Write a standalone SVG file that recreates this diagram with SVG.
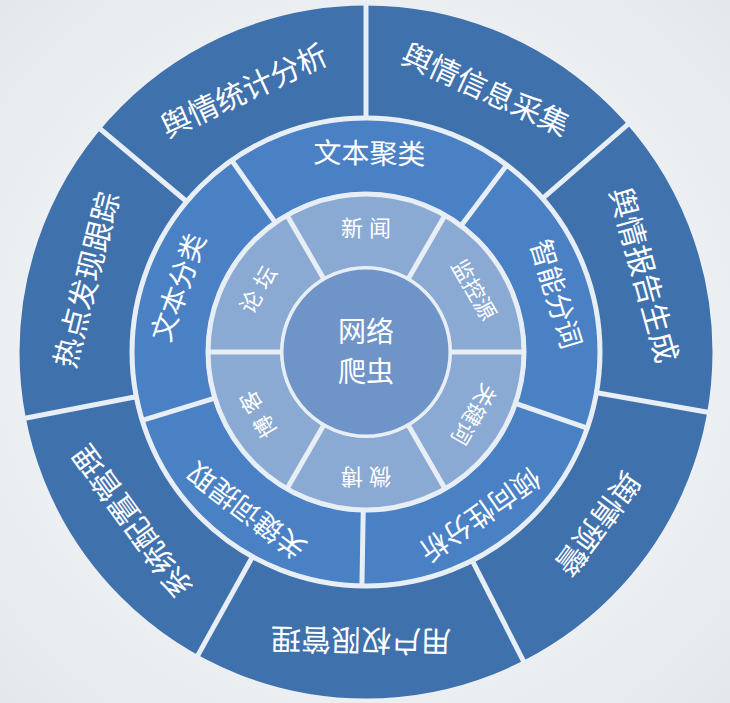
<svg xmlns="http://www.w3.org/2000/svg" width="730" height="703" viewBox="0 0 730 703">
<defs>
<radialGradient id="bg" cx="50%" cy="50%" r="70%"><stop offset="0" stop-color="#ffffff"/><stop offset="1" stop-color="#e4e8ec"/></radialGradient>
<style>
text{font-family:"Liberation Sans","Noto Sans CJK SC",sans-serif;fill:#fff;text-anchor:middle;dominant-baseline:central}
.o{font-size:30px}.m{font-size:28px}.i{font-size:22px}
.sep{stroke:#e8eef6;stroke-width:5}
</style>
</defs>
<rect width="730" height="703" fill="url(#bg)"/>
<g id="rings">
<circle cx="366" cy="352" r="347" fill="#eef2f7"/>
<circle cx="366" cy="352" r="290.5" fill="none" stroke="#3f71ad" stroke-width="112"/>
<circle cx="366" cy="352" r="196" fill="none" stroke="#4a81c5" stroke-width="72"/>
<circle cx="366" cy="352" r="122" fill="none" stroke="#8aaad3" stroke-width="72"/>
<circle cx="366" cy="352" r="84" fill="#6f95c8" stroke="#e8eef6" stroke-width="3"/>
</g>
<g id="separators" class="sep">
<g transform="translate(366 352)">
<line x1="0" y1="-233" x2="0" y2="-350" transform="rotate(0)"/>
<line x1="0" y1="-233" x2="0" y2="-350" transform="rotate(49)"/>
<line x1="0" y1="-233" x2="0" y2="-350" transform="rotate(100)"/>
<line x1="0" y1="-233" x2="0" y2="-350" transform="rotate(153)"/>
<line x1="0" y1="-233" x2="0" y2="-350" transform="rotate(209)"/>
<line x1="0" y1="-233" x2="0" y2="-350" transform="rotate(259)"/>
<line x1="0" y1="-233" x2="0" y2="-350" transform="rotate(310)"/>
<line x1="0" y1="-158" x2="0" y2="-234" transform="rotate(37)"/>
<line x1="0" y1="-158" x2="0" y2="-234" transform="rotate(109)"/>
<line x1="0" y1="-158" x2="0" y2="-234" transform="rotate(181)"/>
<line x1="0" y1="-158" x2="0" y2="-234" transform="rotate(253)"/>
<line x1="0" y1="-158" x2="0" y2="-234" transform="rotate(325)"/>
<line x1="0" y1="-85" x2="0" y2="-158" transform="rotate(30)"/>
<line x1="0" y1="-85" x2="0" y2="-158" transform="rotate(90)"/>
<line x1="0" y1="-85" x2="0" y2="-158" transform="rotate(150)"/>
<line x1="0" y1="-85" x2="0" y2="-158" transform="rotate(210)"/>
<line x1="0" y1="-85" x2="0" y2="-158" transform="rotate(270)"/>
<line x1="0" y1="-85" x2="0" y2="-158" transform="rotate(330)"/>
<circle r="234" fill="none"/>
<circle r="158" fill="none"/>
</g>
</g>
<g transform="translate(366 352)">
<g id="n-tongji"><text class="o" y="-288" transform="rotate(335)">舆情统计分析</text></g>
<g id="n-caiji"><text class="o" y="-288" transform="rotate(24.5)">舆情信息采集</text></g>
<g id="n-baogao"><text class="o" y="-288" transform="rotate(74.5)">舆情报告生成</text></g>
<g id="n-yujing"><text class="o" y="-288" transform="rotate(126.5)">舆情预警</text></g>
<g id="n-quanxian"><text class="o" y="-288" transform="rotate(181)">用户权限管理</text></g>
<g id="n-peizhi"><text class="o" y="-288" transform="rotate(234)">系统配置管理</text></g>
<g id="n-redian"><text class="o" y="-288" transform="rotate(284.5)">热点发现跟踪</text></g>
<g id="n-julei"><text class="m" y="-198" transform="rotate(1)">文本聚类</text></g>
<g id="n-fenci"><text class="m" y="-198" transform="rotate(73)">智能分词</text></g>
<g id="n-qingxiang"><text class="m" y="-198" transform="rotate(145)">倾向性分析</text></g>
<g id="n-tiqu"><text class="m" y="-198" transform="rotate(217)">关键词提取</text></g>
<g id="n-fenlei"><text class="m" y="-198" transform="rotate(289)">文本分类</text></g>
<g id="n-xinwen"><text class="i" y="-124" transform="rotate(0)">新 闻</text></g>
<g id="n-jiankong"><text class="i" y="-124" transform="rotate(60)">监控源</text></g>
<g id="n-guanjianci"><text class="i" y="-124" transform="rotate(120)">关键词</text></g>
<g id="n-weibo"><text class="i" y="-124" transform="rotate(180)">微 博</text></g>
<g id="n-boke"><text class="i" y="-124" transform="rotate(240)">博 客</text></g>
<g id="n-luntan"><text class="i" y="-124" transform="rotate(300)">论 坛</text></g>
<g id="n-center"><text class="m" y="-20">网络</text><text class="m" y="20">爬虫</text></g>
</g>
<g id="connectors"/>
</svg>
